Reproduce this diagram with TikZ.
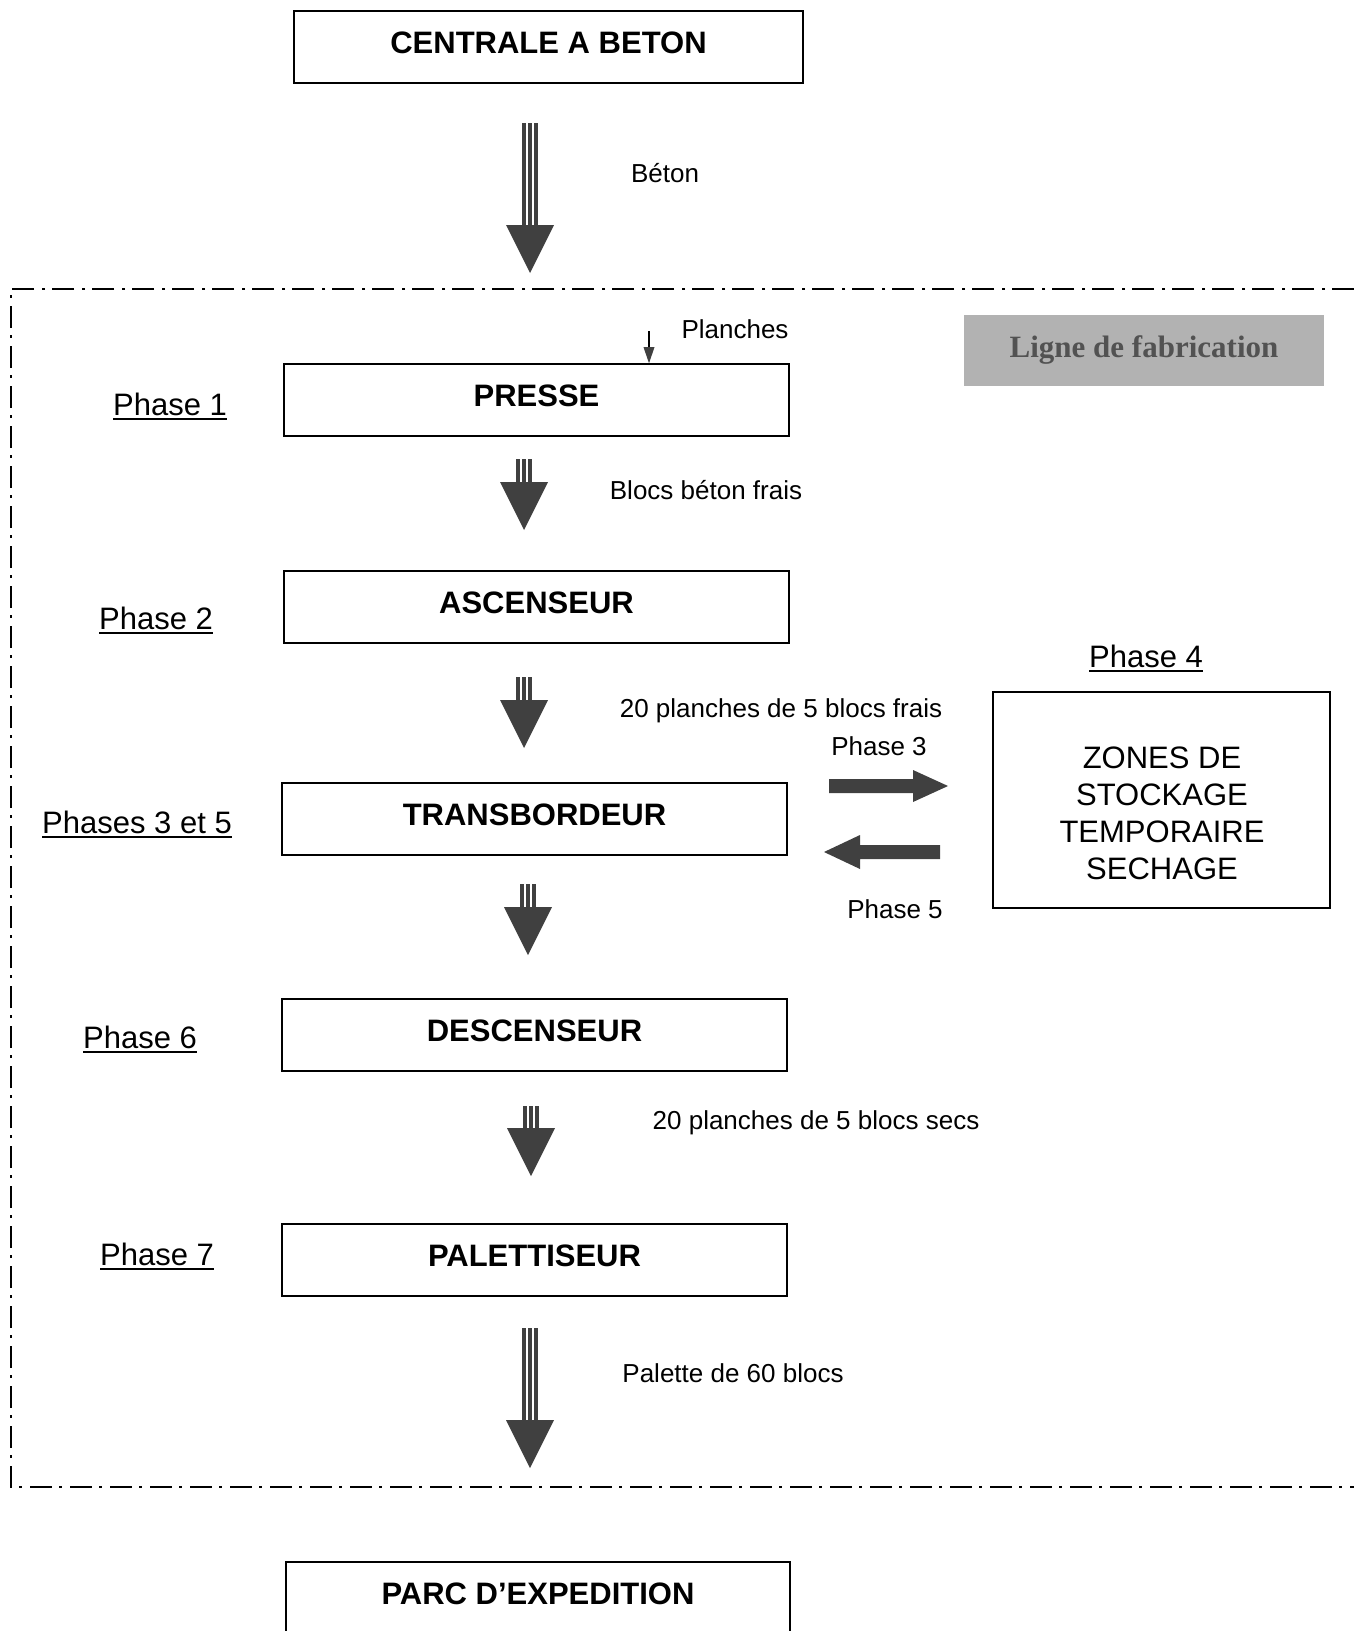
\documentclass[tikz,border=0pt]{standalone}
\usepackage{fontspec}
\setmainfont{Liberation Sans}
\newfontfamily\lignefont{Liberation Serif}
\usetikzlibrary{calc}
\newcommand\phul[1]{\setbox0\hbox{#1}\rlap{\rule[-5pt]{\wd0}{2pt}}\box0}
\newcommand\triplearrow[2]{%
  \fill[arrowfill] ($(#1)+(-8,0)$) rectangle ($(#2)+(-4,-48)$);
  \fill[arrowfill] ($(#1)+(-2,0)$) rectangle ($(#2)+(2,-48)$);
  \fill[arrowfill] ($(#1)+(4,0)$) rectangle ($(#2)+(8,-48)$);
  \fill[arrowfill] ($(#2)+(-24,-48)$) -- ($(#2)+(24,-48)$) -- (#2) -- cycle;}
\begin{document}
\begin{tikzpicture}[x=1pt,y=-1pt,
  stagebox/.style={draw, line width=1.6pt, minimum width=505pt, minimum height=72pt, inner sep=0pt,
    font=\fontsize{31}{37}\selectfont\bfseries, text height=22pt, text depth=10pt},
  phaselbl/.style={anchor=base, font=\fontsize{31}{37}\selectfont, inner sep=0pt},
  flowlbl/.style={anchor=base, font=\fontsize{26}{31}\selectfont, inner sep=0pt},
  arrowfill/.style={fill=black!75},
  frameline/.style={line width=2.5pt, dash pattern=on 22pt off 7pt on 3pt off 8pt}]
\useasboundingbox (0,0) rectangle (1354,1631);
\fill[white] (0,0) rectangle (1354,1631);

% frame of the production line
\draw[frameline] (1354,289) -- (11,289) -- (11,1487) -- (1354,1487);

% boxes
\node[stagebox, minimum width=509pt] (centrale) at (548.5,47) {CENTRALE A BETON};
\node[stagebox] (presse) at (536.5,400) {PRESSE};
\node[stagebox] (ascenseur) at (536.5,607) {ASCENSEUR};
\node[stagebox] (transbordeur) at (534.5,819) {TRANSBORDEUR};
\node[stagebox] (descenseur) at (534.5,1035) {DESCENSEUR};
\node[stagebox] (palettiseur) at (534.5,1260) {PALETTISEUR};
\node[stagebox, minimum width=504pt] (parc) at (538,1598) {PARC D’EXPEDITION};

\node[fill=black!30, minimum width=360pt, minimum height=71pt, inner sep=0pt,
  font=\fontsize{31}{37}\selectfont\lignefont\bfseries, text=black!68] (ligne) at (1144,350.5) {Ligne de fabrication};

\node[draw, line width=1.6pt, minimum width=337pt, minimum height=216pt, inner sep=0pt] (zones) at (1161.5,800) {};
\node[align=center, inner sep=0pt, font=\fontsize{31}{37}\selectfont] (zonestext) at (1162,813) {ZONES DE\\STOCKAGE\\TEMPORAIRE\\SECHAGE};

% phase labels
\node[phaselbl] (ph1) at (170,415) {\phul{Phase 1}};
\node[phaselbl] (ph2) at (156,629) {\phul{Phase 2}};
\node[phaselbl] (ph35) at (137,833) {\phul{Phases 3 et 5}};
\node[phaselbl] (ph6) at (140,1048) {\phul{Phase 6}};
\node[phaselbl] (ph7) at (157,1265) {\phul{Phase 7}};
\node[phaselbl] (ph4) at (1146,667) {\phul{Phase 4}};

% flow labels
\node[flowlbl] (lbeton) at (665,182) {Béton};
\node[flowlbl] (lplanches) at (735,338) {Planches};
\node[flowlbl] (lfrais) at (706,499) {Blocs béton frais};
\node[flowlbl] (l20frais) at (781,717) {20 planches de 5 blocs frais};
\node[flowlbl] (lph3) at (879,755) {Phase 3};
\node[flowlbl] (lph5) at (895,918) {Phase 5};
\node[flowlbl] (l20secs) at (816,1129) {20 planches de 5 blocs secs};
\node[flowlbl] (lpalette) at (733,1382) {Palette de 60 blocs};

% vertical triple arrows
\coordinate (a1s) at (530,123);  \coordinate (a1e) at (530,273);
\coordinate (a2s) at (524,459);  \coordinate (a2e) at (524,530);
\coordinate (a3s) at (524,677);  \coordinate (a3e) at (524,748);
\coordinate (a4s) at (528,884);  \coordinate (a4e) at (528,955);
\coordinate (a5s) at (531,1106); \coordinate (a5e) at (531,1176);
\coordinate (a6s) at (530,1328); \coordinate (a6e) at (530,1468);
\triplearrow{a1s}{a1e}
\triplearrow{a2s}{a2e}
\triplearrow{a3s}{a3e}
\triplearrow{a4s}{a4e}
\triplearrow{a5s}{a5e}
\triplearrow{a6s}{a6e}

% planches arrow
\coordinate (pls) at (649,331);
\coordinate (ple) at ($(presse.north west)!(pls)!(presse.north east)$);
\draw[line width=1.5pt] (pls) -- ($(ple)+(0,-16)$);
\fill[arrowfill] ($(ple)+(-5.5,-16)$) -- ($(ple)+(5.5,-16)$) -- (ple) -- cycle;

% horizontal arrows
\coordinate (r3s) at (829,786); \coordinate (r3e) at (948,786);
\fill[arrowfill] ($(r3s)+(0,-7)$) -- ($(r3e)+(-35,-7)$) -- ($(r3e)+(-35,-16)$) -- (r3e)
  -- ($(r3e)+(-35,16)$) -- ($(r3e)+(-35,7)$) -- ($(r3s)+(0,7)$) -- cycle;
\coordinate (r5s) at (940,852); \coordinate (r5e) at (824,852);
\fill[arrowfill] ($(r5s)+(0,-7)$) -- ($(r5e)+(36,-7)$) -- ($(r5e)+(36,-17)$) -- (r5e)
  -- ($(r5e)+(36,17)$) -- ($(r5e)+(36,7)$) -- ($(r5s)+(0,7)$) -- cycle;
\end{tikzpicture}
\end{document}
